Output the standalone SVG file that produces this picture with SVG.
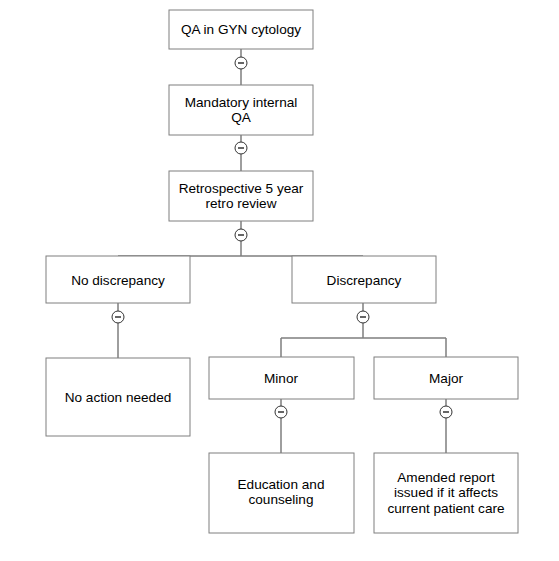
<svg xmlns="http://www.w3.org/2000/svg" width="559" height="561" viewBox="0 0 559 561">
<style>
.box{fill:#fff;stroke:#7f7f7f;stroke-width:1}
.ln{fill:none;stroke:#7f7f7f;stroke-width:1.5}
.c{fill:#fff;stroke:#333;stroke-width:1}
.m{stroke:#333;stroke-width:1.5}
text{font-family:"Liberation Sans",Arial,sans-serif;font-size:13.6px;fill:#000;text-anchor:middle}
</style>
<defs>
<g id="coll"><circle class="c" r="6"/><line class="m" x1="-3" y1="0" x2="3" y2="0"/></g>
</defs>
<rect width="559" height="561" fill="#fff"/>
<g id="connectors">
<path class="ln" d="M241 49V85M241 135V171M241 221V256M118 256H363M118 256V358M363 303V338M281 338H446M281 338V357M446 338V357M281 399V453M446 399V453"/>
<use href="#coll" x="241" y="63"/>
<use href="#coll" x="241" y="148"/>
<use href="#coll" x="241" y="235"/>
<use href="#coll" x="118" y="317"/>
<use href="#coll" x="363" y="317"/>
<use href="#coll" x="281" y="412"/>
<use href="#coll" x="446" y="412"/>
</g>
<g id="n1"><rect class="box" x="169" y="10" width="144" height="39"/><text x="241" y="34">QA in GYN cytology</text></g>
<g id="n2"><rect class="box" x="169" y="85" width="144" height="50"/><text x="241" y="107">Mandatory internal</text><text x="241" y="122">QA</text></g>
<g id="n3"><rect class="box" x="169" y="171" width="144" height="50"/><text x="241" y="193">Retrospective 5 year</text><text x="241" y="208">retro review</text></g>
<g id="n4"><rect class="box" x="46" y="256" width="144" height="47"/><text x="118" y="285">No discrepancy</text></g>
<g id="n5"><rect class="box" x="292" y="256" width="144" height="47"/><text x="364" y="285">Discrepancy</text></g>
<g id="n6"><rect class="box" x="46" y="358" width="144" height="78"/><text x="118" y="402">No action needed</text></g>
<g id="n7"><rect class="box" x="209" y="357" width="145" height="42"/><text x="281" y="383">Minor</text></g>
<g id="n8"><rect class="box" x="374" y="357" width="144" height="42"/><text x="446" y="383">Major</text></g>
<g id="n9"><rect class="box" x="209" y="453" width="145" height="80"/><text x="281" y="489">Education and</text><text x="281" y="504">counseling</text></g>
<g id="n10"><rect class="box" x="374" y="453" width="144" height="80"/><text x="446" y="482">Amended report</text><text x="446" y="497">issued if it affects</text><text x="446" y="513">current patient care</text></g>
</svg>
